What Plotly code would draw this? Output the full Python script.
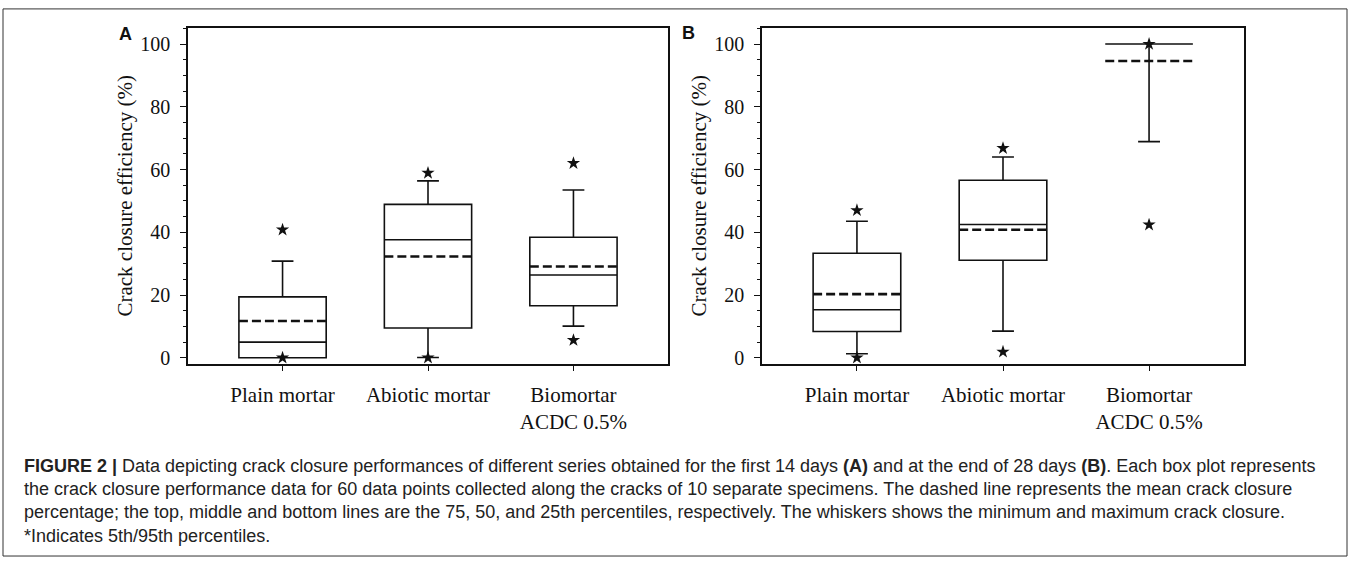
import plotly.graph_objects as go

# ---------------- data ----------------
categories = ["Plain mortar", "Abiotic mortar", "Biomortar<br>ACDC 0.5%"]

# Panel A (first 14 days)
a_q1 = [0.0, 9.5, 16.6]
a_median = [5.0, 37.6, 26.4]
a_q3 = [19.4, 48.9, 38.4]
a_min = [0.0, 0.1, 10.1]
a_max = [30.8, 56.4, 53.5]
a_mean = [11.7, 32.3, 29.1]
a_p5 = [0.0, 0.0, 5.6]
a_p95 = [40.8, 58.9, 62.0]

# Panel B (end of 28 days)
b_q1 = [8.4, 31.1, 100.0]
b_median = [15.3, 42.5, 100.0]
b_q3 = [33.3, 56.6, 100.0]
b_min = [1.3, 8.5, 68.9]
b_max = [43.5, 64.0, 100.0]
b_mean = [20.3, 40.8, 94.6]
b_p5 = [0.0, 1.9, 42.4]
b_p95 = [47.0, 66.8, 100.0]

yticks = [0, 20, 40, 60, 80, 100]

caption_lines = [
    "<b>FIGURE 2 |</b> Data depicting crack closure performances of different series obtained for the first 14 days <b>(A)</b> and at the end of 28 days <b>(B)</b>. Each box plot represents",
    "the crack closure performance data for 60 data points collected along the cracks of 10 separate specimens. The dashed line represents the mean crack closure",
    "percentage; the top, middle and bottom lines are the 75, 50, and 25th percentiles, respectively. The whiskers shows the minimum and maximum crack closure.",
    "*Indicates 5th/95th percentiles.",
]

# ---------------- style ----------------
W, H = 1353, 563
BOXW = 0.6
INK = "#111111"
SERIF = "Liberation Serif"
SANS = "Liberation Sans"

pos = list(range(len(categories)))

fig = go.Figure()


def add_panel(q1, med, q3, lo, hi, mean, p5, p95, xa, ya):
    fig.add_trace(go.Box(
        x=pos, q1=q1, median=med, q3=q3, lowerfence=lo, upperfence=hi,
        width=BOXW, whiskerwidth=0.25, boxpoints=False,
        fillcolor="rgba(0,0,0,0)", line=dict(color=INK, width=1.6),
        xaxis=xa, yaxis=ya, showlegend=False, hoverinfo="skip"))
    mx, my = [], []
    for p, m in zip(pos, mean):
        mx += [p - BOXW / 2, p + BOXW / 2, None]
        my += [m, m, None]
    fig.add_trace(go.Scatter(
        x=mx, y=my, mode="lines", line=dict(color=INK, width=2.6, dash="9px,4px"),
        xaxis=xa, yaxis=ya, showlegend=False, hoverinfo="skip"))
    fig.add_trace(go.Scatter(
        x=pos + pos, y=p5 + p95, mode="markers",
        marker=dict(symbol="star", size=10, color=INK, line=dict(width=0)),
        xaxis=xa, yaxis=ya, showlegend=False, hoverinfo="skip"))


add_panel(a_q1, a_median, a_q3, a_min, a_max, a_mean, a_p5, a_p95, "x", "y")
add_panel(b_q1, b_median, b_q3, b_min, b_max, b_mean, b_p5, b_p95, "x2", "y2")

xcommon = dict(range=[-0.65, 2.65], tickvals=pos, ticktext=categories,
               ticks="outside", ticklen=5, tickwidth=1, tickcolor=INK,
               showline=True, linecolor=INK, linewidth=1.6, mirror=True,
               showgrid=False, zeroline=False, ticklabelstandoff=6,
               tickfont=dict(family=SERIF, size=21, color=INK))
ycommon = dict(range=[-1.9, 105.2], tickvals=yticks,
               ticks="outside", ticklen=6, tickwidth=1, tickcolor=INK,
               minor=dict(dtick=5, ticks="outside", ticklen=3, tickcolor=INK, tickwidth=1),
               showline=True, linecolor=INK, linewidth=1.6, mirror=True,
               showgrid=False, zeroline=False, ticklabelstandoff=6,
               tickfont=dict(family=SERIF, size=20, color=INK),
               title=dict(text="Crack closure efficiency (%)",
                          font=dict(family=SERIF, size=21, color=INK), standoff=2))

ydom = [(H - 367) / H, (H - 28) / H]
fig.update_layout(
    width=W, height=H, margin=dict(l=0, r=0, t=0, b=0),
    paper_bgcolor="white", plot_bgcolor="white",
    xaxis=dict(domain=[188 / W, 668 / W], anchor="y", **xcommon),
    xaxis2=dict(domain=[762 / W, 1244 / W], anchor="y2", **xcommon),
    yaxis=dict(domain=ydom, anchor="x", **ycommon),
    yaxis2=dict(domain=ydom, anchor="x2", **ycommon),
)

# panel letters
for letter, px, py in [("A", 125, 34), ("B", 688, 33)]:
    fig.add_annotation(x=px / W, y=1 - py / H, xref="paper", yref="paper",
                       text="<b>%s</b>" % letter, showarrow=False,
                       xanchor="center", yanchor="middle",
                       font=dict(family=SANS, size=18, color=INK))

# caption
for i, line in enumerate(caption_lines):
    ycen = 470 + i * 23.5
    fig.add_annotation(x=22 / W, y=1 - ycen / H, xref="paper", yref="paper",
                       text=line, showarrow=False, xanchor="left", yanchor="middle",
                       font=dict(family=SANS, size=18, color="#222222"))

# outer frame
fig.add_shape(type="rect", xref="paper", yref="paper",
              x0=3 / W, x1=1347 / W, y0=1 - 561 / H, y1=1 - 9 / H,
              line=dict(color="#333333", width=1))

fig.write_html("out.html")
